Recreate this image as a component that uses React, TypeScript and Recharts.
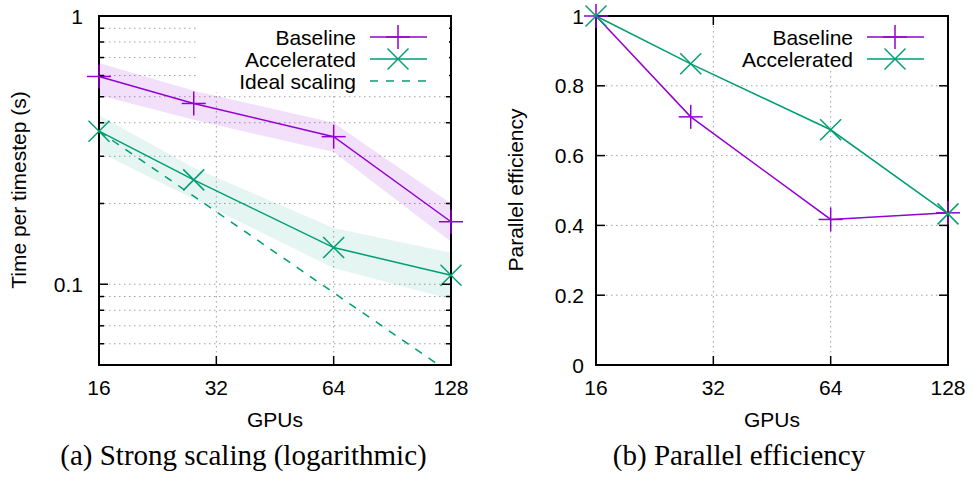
import { ComposedChart, Line, Area, XAxis, YAxis, CartesianGrid, ReferenceArea } from "recharts"

const gpus = [16, 28, 64, 128]
const gpuTicks = [16, 32, 64, 128]

const baselineTime = [0.595, 0.472, 0.355, 0.171]
const baselineLow = [0.507, 0.41, 0.311, 0.144]
const baselineHigh = [0.668, 0.526, 0.4, 0.2]

const acceleratedTime = [0.372, 0.245, 0.137, 0.108]
const acceleratedLow = [0.311, 0.208, 0.115, 0.088]
const acceleratedHigh = [0.427, 0.272, 0.162, 0.131]

const idealTime = [0.372, 0.213, 0.093, 0.0465]

const baselineEff = [1, 0.711, 0.417, 0.436]
const acceleratedEff = [1, 0.863, 0.674, 0.433]

const timeTicks = [0.06, 0.07, 0.08, 0.09, 0.1, 0.2, 0.3, 0.4, 0.5, 0.6, 0.7, 0.8, 0.9, 1]
const timeMajor = [0.1, 1]
const effTicks = [0, 0.2, 0.4, 0.6, 0.8, 1]

const timeRows = gpus.map((g, i) => ({
  gpus: g,
  baseline: baselineTime[i],
  baselineBand: [baselineLow[i], baselineHigh[i]],
  accelerated: acceleratedTime[i],
  acceleratedBand: [acceleratedLow[i], acceleratedHigh[i]],
  ideal: idealTime[i],
}))

const effRows = gpus.map((g, i) => ({
  gpus: g,
  baseline: baselineEff[i],
  accelerated: acceleratedEff[i],
}))

const FONT = '"Liberation Sans", Arial, Helvetica, sans-serif'
const SERIF = '"Liberation Serif", "Times New Roman", serif'
const PURPLE = "#9400d3"
const GREEN = "#009e73"
const PLOT_W = 352
const PLOT_H = 349

function PlusMark({ cx, cy, color }: any) {
  if (cx == null || cy == null) return null
  return (
    <g stroke={color} strokeWidth={1.5}>
      <line x1={cx - 12} y1={cy} x2={cx + 12} y2={cy} />
      <line x1={cx} y1={cy - 12} x2={cx} y2={cy + 12} />
    </g>
  )
}

function CrossMark({ cx, cy, color }: any) {
  if (cx == null || cy == null) return null
  const r = 10.5
  return (
    <g stroke={color} strokeWidth={1.5}>
      <line x1={cx - r} y1={cy - r} x2={cx + r} y2={cy + r} />
      <line x1={cx - r} y1={cy + r} x2={cx + r} y2={cy - r} />
    </g>
  )
}

function GpuTick({ x, y, payload }: any) {
  const v = payload.value
  const inner = v !== 16 && v !== 128
  return (
    <g>
      {inner && <line x1={x} y1={y} x2={x} y2={y - 9} stroke="#000" strokeWidth={1.5} />}
      {inner && <line x1={x} y1={y - PLOT_H} x2={x} y2={y - PLOT_H + 9} stroke="#000" strokeWidth={1.5} />}
      <text x={x} y={y + 30} textAnchor="middle" fontSize={21} fontFamily={FONT} fill="#000">
        {v}
      </text>
    </g>
  )
}

function TimeTick({ x, y, payload }: any) {
  const v = payload.value
  const major = timeMajor.includes(v)
  const len = major ? 9 : 5
  return (
    <g>
      {v !== 1 && <line x1={x} y1={y} x2={x + len} y2={y} stroke="#000" strokeWidth={1.5} />}
      {v !== 1 && <line x1={x + PLOT_W} y1={y} x2={x + PLOT_W - len} y2={y} stroke="#000" strokeWidth={1.5} />}
      {major && (
        <text x={x - 16} y={y} dy="0.36em" textAnchor="end" fontSize={21} fontFamily={FONT} fill="#000">
          {String(v)}
        </text>
      )}
    </g>
  )
}

function EffTick({ x, y, payload }: any) {
  const v = payload.value
  const inner = v !== 0 && v !== 1
  return (
    <g>
      {inner && <line x1={x} y1={y} x2={x + 9} y2={y} stroke="#000" strokeWidth={1.5} />}
      {inner && <line x1={x + PLOT_W} y1={y} x2={x + PLOT_W - 9} y2={y} stroke="#000" strokeWidth={1.5} />}
      <text x={x - 12} y={y} dy="0.36em" textAnchor="end" fontSize={21} fontFamily={FONT} fill="#000">
        {String(v)}
      </text>
    </g>
  )
}

function LegendRow({ y, textRight, label, color, mark, dashed }: any) {
  const x1 = textRight + 14
  const x2 = textRight + 71
  const mx = textRight + 42
  return (
    <g>
      <text x={textRight} y={y} dy="0.36em" textAnchor="end" fontSize={21} fontFamily={FONT} fill="#000">
        {label}
      </text>
      <line x1={x1} y1={y} x2={x2} y2={y} stroke={color} strokeWidth={1.5} strokeDasharray={dashed ? "8 8" : undefined} />
      {mark === "plus" && <PlusMark cx={mx} cy={y} color={color} />}
      {mark === "cross" && <CrossMark cx={mx} cy={y} color={color} />}
    </g>
  )
}

const gridProps = { stroke: "#a0a0a0", strokeDasharray: "1.5 3.5", strokeWidth: 1 }

function TimePanel() {
  return (
    <div style={{ position: "absolute", left: 0, top: 0, width: 490, height: 486 }}>
      <ComposedChart width={490} height={486} data={timeRows} margin={{ top: 16, right: 39, bottom: 0, left: 0 }}>
        <CartesianGrid {...gridProps} />
        <XAxis
          dataKey="gpus"
          type="number"
          scale="log"
          domain={[16, 128]}
          ticks={gpuTicks}
          interval={0}
          height={121}
          axisLine={false}
          tickLine={false}
          tickSize={0}
          tickMargin={0}
          tick={(p: any) => <GpuTick {...p} />}
        />
        <YAxis
          type="number"
          scale="log"
          domain={[0.05, 1]}
          ticks={timeTicks}
          interval={0}
          width={99}
          axisLine={false}
          tickLine={false}
          tickSize={0}
          tickMargin={0}
          tick={(p: any) => <TimeTick {...p} />}
        />
        <YAxis yAxisId="ideal" hide type="number" scale="log" domain={[0.05, 1]} allowDataOverflow />
        <Area dataKey="baselineBand" stroke="none" fill={PURPLE} fillOpacity={0.12} isAnimationActive={false} />
        <Area dataKey="acceleratedBand" stroke="none" fill={GREEN} fillOpacity={0.1} isAnimationActive={false} />
        <Line
          yAxisId="ideal"
          dataKey="ideal"
          stroke={GREEN}
          strokeWidth={1.5}
          strokeDasharray="8 8"
          dot={false}
          isAnimationActive={false}
        />
        <Line
          dataKey="baseline"
          stroke={PURPLE}
          strokeWidth={1.5}
          dot={(p: any) => <PlusMark key={`b${p.index}`} cx={p.cx} cy={p.cy} color={PURPLE} />}
          isAnimationActive={false}
        />
        <Line
          dataKey="accelerated"
          stroke={GREEN}
          strokeWidth={1.5}
          dot={(p: any) => <CrossMark key={`a${p.index}`} cx={p.cx} cy={p.cy} color={GREEN} />}
          isAnimationActive={false}
        />
        <ReferenceArea x1={16} x2={128} y1={0.05} y2={1} fill="none" stroke="#000" strokeWidth={2} />
      </ComposedChart>
      <svg width={490} height={486} style={{ position: "absolute", left: 0, top: 0, pointerEvents: "none" }}>
        <rect x={197} y={17} width={252} height={75} fill="#fff" />
        <LegendRow y={37} textRight={356} label="Baseline" color={PURPLE} mark="plus" />
        <LegendRow y={59} textRight={356} label="Accelerated" color={GREEN} mark="cross" />
        <LegendRow y={81} textRight={356} label="Ideal scaling" color={GREEN} dashed />
        <text transform="translate(26,190) rotate(-90)" textAnchor="middle" fontSize={21} fontFamily={FONT} fill="#000">
          Time per timestep (s)
        </text>
        <text x={275} y={427} textAnchor="middle" fontSize={21} fontFamily={FONT} fill="#000">
          GPUs
        </text>
        <text x={243.5} y={465} textAnchor="middle" fontSize={29} fontFamily={SERIF} fill="#000">
          (a) Strong scaling (logarithmic)
        </text>
      </svg>
    </div>
  )
}

function EffPanel() {
  return (
    <div style={{ position: "absolute", left: 490, top: 0, width: 483, height: 486 }}>
      <ComposedChart width={483} height={486} data={effRows} margin={{ top: 16, right: 25, bottom: 0, left: 0 }}>
        <CartesianGrid {...gridProps} />
        <XAxis
          dataKey="gpus"
          type="number"
          scale="log"
          domain={[16, 128]}
          ticks={gpuTicks}
          interval={0}
          height={121}
          axisLine={false}
          tickLine={false}
          tickSize={0}
          tickMargin={0}
          tick={(p: any) => <GpuTick {...p} />}
        />
        <YAxis
          type="number"
          domain={[0, 1]}
          ticks={effTicks}
          interval={0}
          width={106}
          axisLine={false}
          tickLine={false}
          tickSize={0}
          tickMargin={0}
          tick={(p: any) => <EffTick {...p} />}
        />
        <Line
          dataKey="baseline"
          stroke={PURPLE}
          strokeWidth={1.5}
          dot={(p: any) => <PlusMark key={`b${p.index}`} cx={p.cx} cy={p.cy} color={PURPLE} />}
          isAnimationActive={false}
        />
        <Line
          dataKey="accelerated"
          stroke={GREEN}
          strokeWidth={1.5}
          dot={(p: any) => <CrossMark key={`a${p.index}`} cx={p.cx} cy={p.cy} color={GREEN} />}
          isAnimationActive={false}
        />
        <ReferenceArea x1={16} x2={128} y1={0} y2={1} fill="none" stroke="#000" strokeWidth={2} />
      </ComposedChart>
      <svg width={483} height={486} style={{ position: "absolute", left: 0, top: 0, pointerEvents: "none" }}>
        <rect x={240} y={17} width={216} height={53} fill="#fff" />
        <LegendRow y={37} textRight={363} label="Baseline" color={PURPLE} mark="plus" />
        <LegendRow y={59} textRight={363} label="Accelerated" color={GREEN} mark="cross" />
        <text transform="translate(33,190) rotate(-90)" textAnchor="middle" fontSize={21} fontFamily={FONT} fill="#000">
          Parallel efficiency
        </text>
        <text x={282} y={427} textAnchor="middle" fontSize={21} fontFamily={FONT} fill="#000">
          GPUs
        </text>
        <text x={249} y={465} textAnchor="middle" fontSize={29} fontFamily={SERIF} fill="#000">
          (b) Parallel efficiency
        </text>
      </svg>
    </div>
  )
}

export default function App() {
  return (
    <div style={{ position: "absolute", left: 0, top: 0, width: 973, height: 486, background: "#fff" }}>
      <TimePanel />
      <EffPanel />
    </div>
  )
}
